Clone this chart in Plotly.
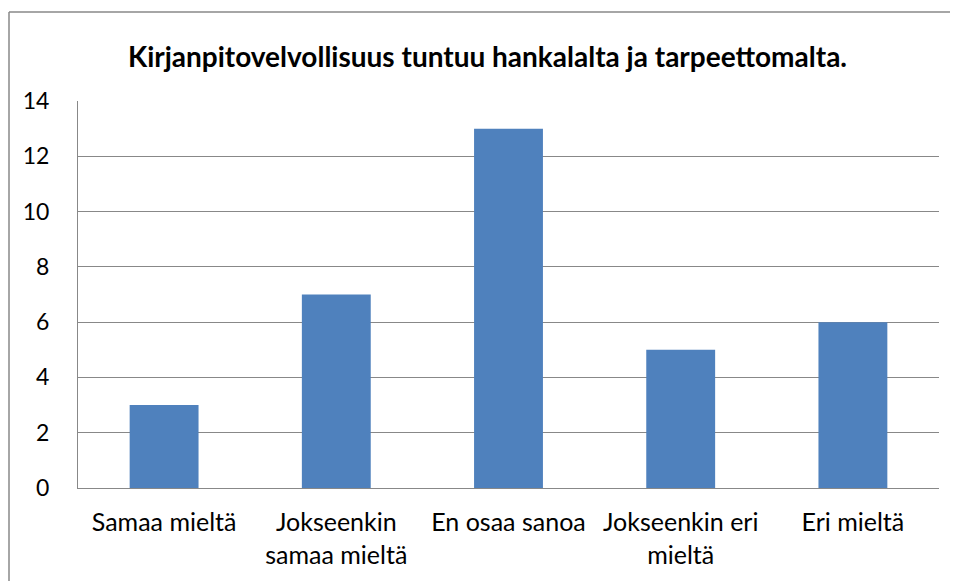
import plotly.graph_objects as go

categories = ["Samaa mieltä", "Jokseenkin<br>samaa mieltä", "En osaa sanoa", "Jokseenkin eri<br>mieltä", "Eri mieltä"]
values = [3, 7, 13, 5, 6]
title_text = "Kirjanpitovelvollisuus tuntuu hankalalta ja tarpeettomalta."

# page has an 8px body margin, so figure coordinates are page coordinates minus 8
W, H = 950, 573
L, R, T, B = 70, 931, 93, 480

fig = go.Figure(go.Bar(x=categories, y=values, marker=dict(color="#4F81BD", line=dict(width=0)), width=0.4))

font = "Lato, 'Open Sans', sans-serif"
fig.update_layout(
    width=W, height=H,
    margin=dict(l=L, r=W - R, t=T, b=H - B),
    paper_bgcolor="white", plot_bgcolor="white",
    font=dict(family=font, size=25, color="black"),
    title=dict(text="<b>" + title_text + "</b>", x=479.5 / W, xanchor="center", xref="container",
               y=1 - 49 / H, yanchor="middle",
               font=dict(size=28, family=font, color="black")),
    showlegend=False,
    bargap=0.6,
)
fig.update_yaxes(range=[0, 14], dtick=2, showgrid=True, gridcolor="#888888", gridwidth=1,
                 showline=True, linecolor="#888888", linewidth=1, zeroline=False,
                 ticks="", ticklabelstandoff=23, tickfont=dict(size=23))
fig.update_xaxes(showline=True, linecolor="#888888", linewidth=1, showgrid=False, ticks="",
                 ticklabelstandoff=12, tickfont=dict(size=25))

pw, ph = R - L, B - T
bx = (1 - L) / pw
by = (B - 4) / ph
bxr = (W - L) / pw
fig.add_shape(type="line", xref="paper", yref="paper", x0=bx, x1=bx, y0=-(H - B) / ph, y1=by,
              line=dict(color="#888888", width=1.5))
fig.add_shape(type="line", xref="paper", yref="paper", x0=bx, x1=bxr, y0=by, y1=by,
              line=dict(color="#888888", width=1.5))

fig.write_html("out.html")
